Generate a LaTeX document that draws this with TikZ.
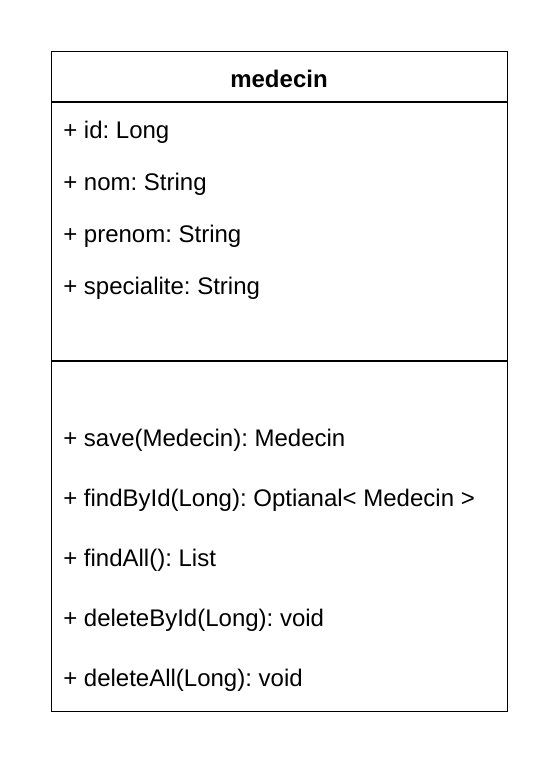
\documentclass[tikz,border=0pt]{standalone}
\usepackage{fontspec}
\setmainfont{Liberation Sans}
\begin{document}
\frenchspacing
\begin{tikzpicture}[x=0.75pt,y=-0.75pt,
  member/.style={anchor=base west,inner sep=0pt,font=\fontsize{18}{21.6}\selectfont\frenchspacing},
  title/.style={anchor=base,inner sep=0pt,font=\fontsize{18}{21.6}\selectfont\bfseries},
  classline/.style={line width=1pt,draw=black}]
\useasboundingbox (0,0) rectangle (558,768);
\node[classline,rectangle,minimum width=456*0.75pt,minimum height=660*0.75pt,inner sep=0pt,anchor=north west] (box) at (51,51) {};
\coordinate (h1) at (51,102); \coordinate (h2) at (507,102);
\coordinate (d1) at (51,361); \coordinate (d2) at (507,361);
\draw[classline] (h1) -- (h2);
\draw[classline] (d1) -- (d2);
\node[title] (name) at (279,87) {medecin};
\node[member] (a1) at (63,138) {+ id: Long};
\node[member] (a2) at (63,190) {+ nom: String};
\node[member] (a3) at (63,242) {+ prenom: String};
\node[member] (a4) at (63,294) {+ specialite: String};
\node[member] (m1) at (63,446) {+ save(Medecin): Medecin};
\node[member] (m2) at (63,506) {+ findById(Long): Optianal< Medecin >};
\node[member] (m3) at (63,566) {+ findAll(): List};
\node[member] (m4) at (63,626) {+ deleteById(Long): void};
\node[member] (m5) at (63,686) {+ deleteAll(Long): void};
\end{tikzpicture}
\end{document}
